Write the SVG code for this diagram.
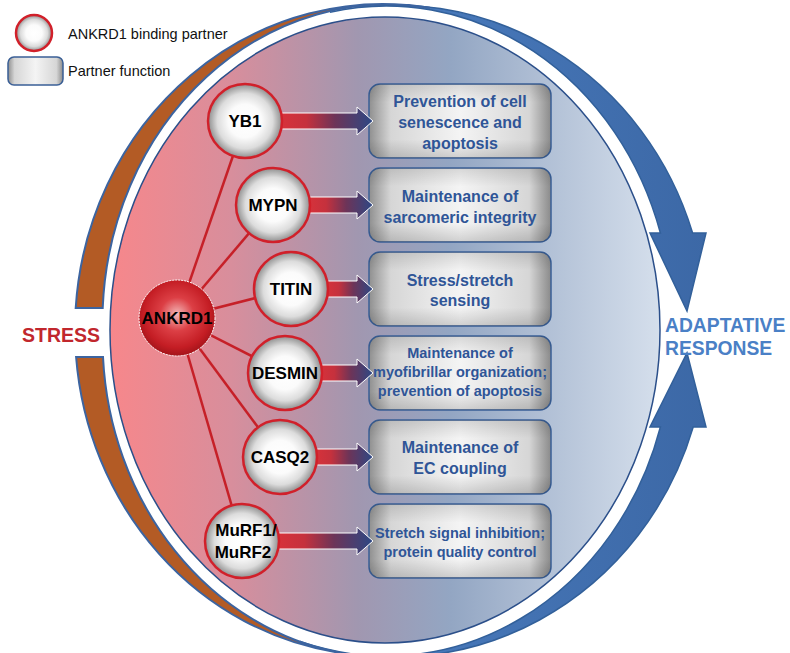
<svg xmlns="http://www.w3.org/2000/svg" width="790" height="653" viewBox="0 0 790 653">
<defs>
  <linearGradient id="bgGrad" x1="110" y1="0" x2="660" y2="0" gradientUnits="userSpaceOnUse">
    <stop offset="0" stop-color="#f7878b"/>
    <stop offset="0.22" stop-color="#d88e9c"/>
    <stop offset="0.45" stop-color="#a197b0"/>
    <stop offset="0.62" stop-color="#93a6c3"/>
    <stop offset="1" stop-color="#d5dfec"/>
  </linearGradient>
  <radialGradient id="partnerGrad" cx="0.5" cy="0.5" r="0.5">
    <stop offset="0" stop-color="#ffffff"/>
    <stop offset="0.45" stop-color="#fbfbfb"/>
    <stop offset="0.75" stop-color="#dcdcdc"/>
    <stop offset="1" stop-color="#8e8e8e"/>
  </radialGradient>
  <radialGradient id="ankGrad" cx="0.5" cy="0.45" r="0.55">
    <stop offset="0" stop-color="#f4b9b9"/>
    <stop offset="0.4" stop-color="#dc3f45"/>
    <stop offset="0.8" stop-color="#c41d24"/>
    <stop offset="1" stop-color="#a3141a"/>
  </radialGradient>
  <linearGradient id="boxGrad" x1="0" y1="0" x2="1" y2="0">
    <stop offset="0" stop-color="#8f8f8f"/>
    <stop offset="0.12" stop-color="#d6d6d6"/>
    <stop offset="0.5" stop-color="#f4f4f4"/>
    <stop offset="0.88" stop-color="#d6d6d6"/>
    <stop offset="1" stop-color="#8a8a8a"/>
  </linearGradient>
  <linearGradient id="boxShade" x1="0" y1="0" x2="0" y2="1">
    <stop offset="0" stop-color="#000" stop-opacity="0.12"/>
    <stop offset="0.25" stop-color="#000" stop-opacity="0"/>
    <stop offset="0.75" stop-color="#000" stop-opacity="0"/>
    <stop offset="1" stop-color="#000" stop-opacity="0.15"/>
  </linearGradient>
  <linearGradient id="arrowGrad" x1="0" y1="0" x2="1" y2="0">
    <stop offset="0" stop-color="#d9323a"/>
    <stop offset="0.3" stop-color="#c5313d"/>
    <stop offset="0.6" stop-color="#6d3458"/>
    <stop offset="1" stop-color="#2c4885"/>
  </linearGradient>
  <linearGradient id="blueArc" x1="0" y1="0" x2="1" y2="0">
    <stop offset="0" stop-color="#4c7fc2"/>
    <stop offset="1" stop-color="#3c68a6"/>
  </linearGradient>
  <style>
    .orange { fill: #b35b25; stroke: #3c64a0; stroke-width: 2; }
    .bluearc { fill: url(#blueArc); stroke: #32609a; stroke-width: 1.5; }
    .partner { fill: url(#partnerGrad); stroke: #d1202a; stroke-width: 2.5; }
    .ptext { font-family: "Liberation Sans", Arial, sans-serif; font-weight: bold; font-size: 17px; fill: #000; text-anchor: middle; }
    .box { fill: url(#boxGrad); stroke: #3a5f96; stroke-width: 1.5; }
    .boxshade { fill: url(#boxShade); }
    .btext { font-family: "Liberation Sans", Arial, sans-serif; font-weight: bold; font-size: 16px; fill: #2f5597; text-anchor: middle; }
    .btext.small { font-size: 14.5px; }
    .link { stroke: #c62028; stroke-width: 2.5; fill: none; }
    .harrow { fill: url(#arrowGrad); stroke: #ffffff; stroke-width: 1; }
    .legend { font-family: "Liberation Sans", Arial, sans-serif; font-size: 14.5px; fill: #111; }
  </style>
</defs>
<rect width="790" height="653" fill="#ffffff"/>

<g id="outer-ring">
  <path class="bluearc" d="M 330 12.2 A 312 326 0 0 1 692.6 233 L 706 233 L 687 311 L 650 233 L 660.4 233 A 286 318 0 0 0 330 12.2 Z"/>
  <path class="bluearc" d="M 300 641.5 A 312 326 0 0 0 693.2 427 L 706 427 L 687 353 L 650 427 L 660.4 427 A 286 318 0 0 1 300 641.5 Z"/>
  <path class="orange" d="M 430 7.8 A 308 326 0 0 0 75.7 308 L 102.7 308 A 286 318 0 0 1 430 7.8 Z"/>
  <path class="orange" d="M 76.1 357 A 308 326 0 0 0 340 652.8 A 286 318 0 0 1 103 357 Z"/>
</g>

<g id="cell">
  <ellipse cx="385" cy="330" rx="275" ry="313" fill="url(#bgGrad)" stroke="#2b4f8a" stroke-width="1.5"/>
</g>

<g id="legend">
  <circle cx="34" cy="33" r="18" class="partner"/>
  <text class="legend" x="68" y="39">ANKRD1 binding partner</text>
  <rect x="8" y="57" width="55" height="28" rx="6" class="box"/>
  <text class="legend" x="68" y="76">Partner function</text>
</g>

<g id="labels">
  <text x="61" y="342" font-family="'Liberation Sans', Arial, sans-serif" font-weight="bold" font-size="19.5px" fill="#c1272d" text-anchor="middle">STRESS</text>
  <text x="665" y="332" font-family="'Liberation Sans', Arial, sans-serif" font-weight="bold" font-size="19.3px" fill="#4a80c6">ADAPTATIVE</text>
  <text x="665" y="355" font-family="'Liberation Sans', Arial, sans-serif" font-weight="bold" font-size="19.3px" fill="#4a80c6">RESPONSE</text>
</g>

<g id="fn-yb1">
  <rect x="369" y="84" width="182" height="74" rx="11" class="box"/>
  <rect x="369" y="84" width="182" height="74" rx="11" class="boxshade"/>
  <text class="btext" x="460" y="107">Prevention of cell</text>
  <text class="btext" x="460" y="128">senescence and</text>
  <text class="btext" x="460" y="149">apoptosis</text>
</g>
<g id="fn-mypn">
  <rect x="369" y="168" width="182" height="74" rx="11" class="box"/>
  <rect x="369" y="168" width="182" height="74" rx="11" class="boxshade"/>
  <text class="btext" x="460" y="202">Maintenance of</text>
  <text class="btext" x="460" y="223">sarcomeric integrity</text>
</g>
<g id="fn-titin">
  <rect x="369" y="252" width="182" height="74" rx="11" class="box"/>
  <rect x="369" y="252" width="182" height="74" rx="11" class="boxshade"/>
  <text class="btext" x="460" y="286">Stress/stretch</text>
  <text class="btext" x="460" y="306">sensing</text>
</g>
<g id="fn-desmin">
  <rect x="369" y="336" width="182" height="74" rx="11" class="box"/>
  <rect x="369" y="336" width="182" height="74" rx="11" class="boxshade"/>
  <text class="btext small" x="460" y="358">Maintenance of</text>
  <text class="btext small" x="460" y="377">myofibrillar organization;</text>
  <text class="btext small" x="460" y="396">prevention of apoptosis</text>
</g>
<g id="fn-casq2">
  <rect x="369" y="420" width="182" height="74" rx="11" class="box"/>
  <rect x="369" y="420" width="182" height="74" rx="11" class="boxshade"/>
  <text class="btext" x="460" y="453">Maintenance of</text>
  <text class="btext" x="460" y="474">EC coupling</text>
</g>
<g id="fn-murf">
  <rect x="369" y="504" width="182" height="74" rx="11" class="box"/>
  <rect x="369" y="504" width="182" height="74" rx="11" class="boxshade"/>
  <text class="btext small" x="460" y="538">Stretch signal inhibition;</text>
  <text class="btext small" x="460" y="557">protein quality control</text>
</g>

<g id="connectors">
  <line class="link" x1="177" y1="318" x2="245" y2="121"/>
  <line class="link" x1="177" y1="318" x2="273" y2="205"/>
  <line class="link" x1="177" y1="318" x2="291" y2="289"/>
  <line class="link" x1="177" y1="318" x2="285" y2="373"/>
  <line class="link" x1="177" y1="318" x2="280" y2="457"/>
  <line class="link" x1="177" y1="318" x2="242" y2="541"/>
  <path class="harrow" d="M 278 113 L 357 113 L 357 107 L 373 121 L 357 135 L 357 129 L 278 129 Z"/>
  <path class="harrow" d="M 306 197 L 357 197 L 357 191 L 373 205 L 357 219 L 357 213 L 306 213 Z"/>
  <path class="harrow" d="M 324 281 L 357 281 L 357 275 L 373 289 L 357 303 L 357 297 L 324 297 Z"/>
  <path class="harrow" d="M 318 365 L 357 365 L 357 359 L 373 373 L 357 387 L 357 381 L 318 381 Z"/>
  <path class="harrow" d="M 313 449 L 357 449 L 357 443 L 373 457 L 357 471 L 357 465 L 313 465 Z"/>
  <path class="harrow" d="M 275 533 L 357 533 L 357 527 L 373 541 L 357 555 L 357 549 L 275 549 Z"/>
</g>

<g id="ankrd1">
  <circle cx="177" cy="318" r="38" fill="url(#ankGrad)" stroke="#ffffff" stroke-width="1" stroke-dasharray="2 1"/>
  <text class="ptext" x="177" y="324" font-size="16.5px">ANKRD1</text>
</g>
<g id="yb1">
  <circle cx="245" cy="121" r="37" class="partner"/>
  <text class="ptext" x="245" y="127" font-size="18px">YB1</text>
</g>
<g id="mypn">
  <circle cx="273" cy="205" r="37" class="partner"/>
  <text class="ptext" x="273" y="211">MYPN</text>
</g>
<g id="titin">
  <circle cx="291" cy="289" r="37" class="partner"/>
  <text class="ptext" x="291" y="295">TITIN</text>
</g>
<g id="desmin">
  <circle cx="285" cy="373" r="37" class="partner"/>
  <text class="ptext" x="285" y="379" font-size="16.5px">DESMIN</text>
</g>
<g id="casq2">
  <circle cx="280" cy="457" r="37" class="partner"/>
  <text class="ptext" x="280" y="463">CASQ2</text>
</g>
<g id="murf">
  <circle cx="242" cy="541" r="37" class="partner"/>
  <text class="ptext" x="246" y="536">MuRF1/</text>
  <text class="ptext" x="243" y="558">MuRF2</text>
</g>
</svg>
